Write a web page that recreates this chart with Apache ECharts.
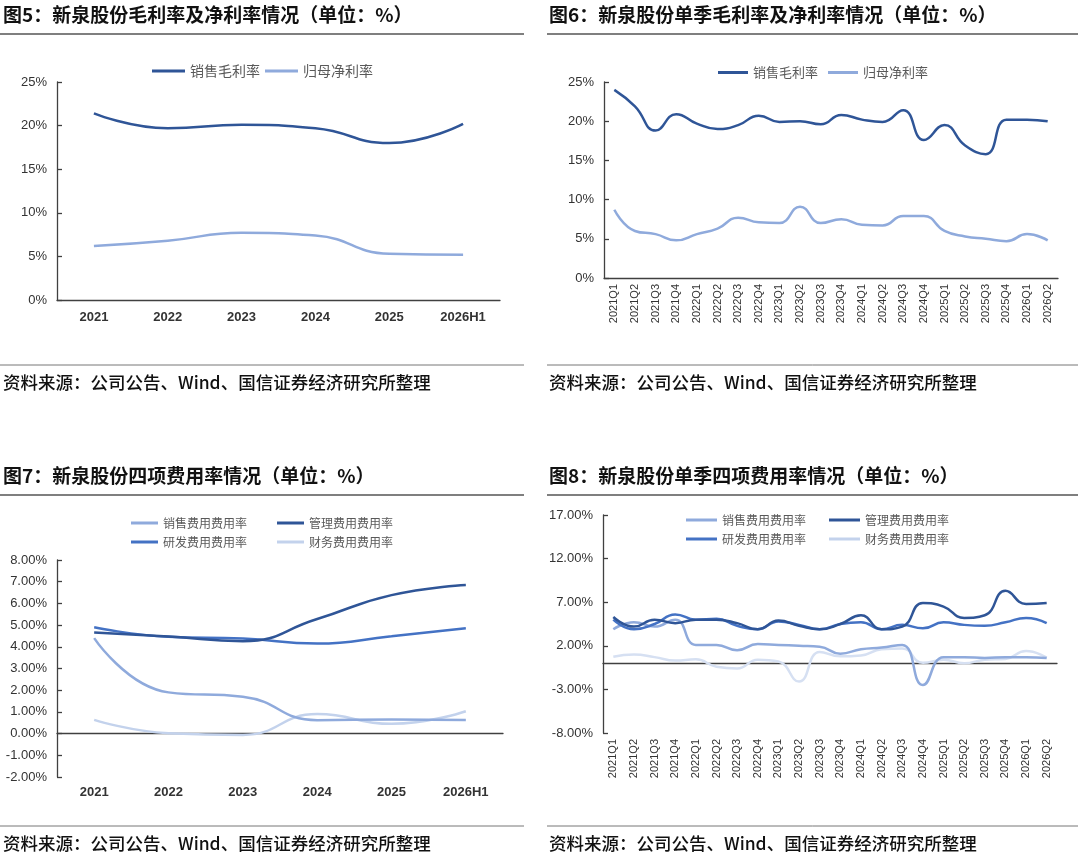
<!DOCTYPE html>
<html lang="zh-CN">
<head>
<meta charset="UTF-8">
<title>新泉股份 利润率与费用率</title>
<style>
  html, body { margin: 0; padding: 0; background: #fff; }
  #main { width: 1080px; height: 859px; }
</style>
</head>
<body>
<div id="main"></div>
<script src="https://cdn.jsdelivr.net/npm/echarts@6/dist/echarts.min.js"></script>
<script type="text/javascript">
    // 年度 / 单季 类目
    var years = ['2021', '2022', '2023', '2024', '2025', '2026H1'];
    var quarters = ['2021Q1', '2021Q2', '2021Q3', '2021Q4', '2022Q1', '2022Q2', '2022Q3', '2022Q4',
        '2023Q1', '2023Q2', '2023Q3', '2023Q4', '2024Q1', '2024Q2', '2024Q3', '2024Q4',
        '2025Q1', '2025Q2', '2025Q3', '2025Q4', '2026Q1', '2026Q2'];

    // 图5 年度毛利率/净利率 (%)
    var grossYear = [21.4, 19.7, 20.1, 19.7, 18.0, 20.2];
    var netYear = [6.2, 6.8, 7.7, 7.4, 5.3, 5.2];

    // 图6 单季毛利率/净利率 (%)
    var grossQtr = [24.0, 21.9, 18.8, 20.9, 19.7, 19.0, 19.5, 20.7, 19.9, 20.0, 19.6, 20.8,
        20.2, 19.9, 21.4, 17.6, 19.5, 16.9, 15.8, 20.2, 20.2, 20.0];
    var netQtr = [8.7, 6.0, 5.6, 4.8, 5.6, 6.3, 7.7, 7.1, 7.0, 9.1, 7.0, 7.5,
        6.8, 6.7, 7.9, 7.9, 6.0, 5.3, 5.0, 4.7, 5.6, 4.8];

    // 图7 年度四项费用率 (%)
    var sellYear = [4.4, 1.9, 1.7, 0.62, 0.65, 0.63];
    var mgmtYear = [4.66, 4.48, 4.26, 5.28, 6.38, 6.85];
    var rdYear = [4.9, 4.46, 4.38, 4.15, 4.49, 4.85];
    var finYear = [0.63, 0.02, -0.06, 0.9, 0.45, 1.03];

    // 图8 单季四项费用率 (%)
    var sellQtr = [3.9, 4.7, 4.2, 5.0, 2.1, 2.1, 1.5, 2.2, 2.1, 2.0, 1.9, 1.1,
        1.6, 1.8, 2.1, -2.5, 0.7, 0.7, 0.6, 0.7, 0.7, 0.6];
    var mgmtQtr = [5.3, 4.2, 5.0, 4.6, 5.0, 5.0, 4.6, 3.9, 4.9, 4.3, 3.9, 4.5,
        5.5, 3.9, 4.2, 6.9, 6.5, 5.2, 5.5, 8.3, 6.8, 6.9];
    var rdQtr = [5.0, 3.9, 4.5, 5.6, 5.0, 5.1, 4.3, 3.9, 4.8, 4.4, 3.9, 4.5,
        4.7, 3.9, 4.4, 4.0, 4.7, 4.4, 4.3, 4.7, 5.2, 4.6];
    var finQtr = [0.75, 1.0, 0.7, 0.3, 0.45, -0.4, -0.6, 0.4, 0.2, -2.1, 1.3, 0.8,
        0.9, 1.6, 1.7, 0.05, 0.4, 0.0, 0.4, 0.5, 1.4, 0.65];

    var cDark = '#2F5597', cMid = '#4472C4', cLight = '#8FAADC', cPale = '#C3D2EC', cPaler = '#D6E0F2';
    var axisColor = '#404040';
    var labelColor = '#333333';
    var font = '"Liberation Sans", "Noto Sans CJK SC", sans-serif';

    function xCat(grid, data, extra) {
        var ax = {
            type: 'category', gridIndex: grid, data: data,
            axisLine: {lineStyle: {color: axisColor, width: 1.3}},
            axisTick: {inside: true, length: 5, lineStyle: {color: axisColor, width: 1.3}},
            axisLabel: {color: labelColor, fontSize: 13, fontWeight: 'bold', margin: 11, interval: 0}
        };
        return Object.assign(ax, extra || {});
    }

    function yVal(grid, min, max, step, digits) {
        return {
            type: 'value', gridIndex: grid, min: min, max: max, interval: step,
            splitLine: {show: false},
            axisLine: {show: true, lineStyle: {color: axisColor, width: 1.3}},
            axisTick: {show: true, inside: true, length: 5, lineStyle: {color: axisColor, width: 1.3}},
            axisLabel: {
                color: labelColor, fontSize: 13, margin: 10,
                formatter: function (v) { return v.toFixed(digits) + '%'; }
            }
        };
    }

    function line(name, data, color, xi, yi, w) {
        return {
            name: name, type: 'line', xAxisIndex: xi, yAxisIndex: yi, data: data,
            smooth: true, symbol: 'none',
            lineStyle: {color: color, width: w || 2.5},
            itemStyle: {color: color}
        };
    }

    function legend(left, top, names, iw, gap, fs) {
        return {
            left: left, top: top, data: names, icon: 'rect', itemWidth: iw, itemHeight: 3,
            itemGap: gap, padding: 0, selectedMode: false,
            textStyle: {fontSize: fs, color: '#595959', fontFamily: '"Noto Sans CJK SC", sans-serif'}
        };
    }

    function hline(x1, x2, y, w, color) {
        return {type: 'line', shape: {x1: x1, y1: y, x2: x2, y2: y}, style: {stroke: color, lineWidth: w}, silent: true};
    }

    function note(x, y) {
        return {
            type: 'text', x: x, y: y,
            style: {
                text: '资料来源：公司公告、Wind、国信证券经济研究所整理',
                font: '500 17.5px "Noto Sans CJK SC", sans-serif', fill: '#111', verticalAlign: 'middle'
            }
        };
    }

    var titleStyle = {fontSize: 19, color: '#111', fontWeight: 'bold', fontFamily: '"Noto Sans CJK SC", sans-serif'};

    var myChart = echarts.init(document.getElementById('main'));
    myChart.setOption({
        animation: false,
        textStyle: {fontFamily: font},
        title: [
            {text: '图5：新泉股份毛利率及净利率情况（单位：%）', left: 3, top: 5, padding: 0, textStyle: titleStyle},
            {text: '图6：新泉股份单季毛利率及净利率情况（单位：%）', left: 549, top: 5, padding: 0, textStyle: titleStyle},
            {text: '图7：新泉股份四项费用率情况（单位：%）', left: 3, top: 466, padding: 0, textStyle: titleStyle},
            {text: '图8：新泉股份单季四项费用率情况（单位：%）', left: 549, top: 466, padding: 0, textStyle: titleStyle}
        ],
        legend: [
            legend(152, 64, ['销售毛利率', '归母净利率'], 33, 5, 14),
            legend(718, 66, ['销售毛利率', '归母净利率'], 30, 10, 13),
            legend(131, 517, ['销售费用费用率', '管理费用费用率'], 27, 30, 12),
            legend(131, 536, ['研发费用费用率', '财务费用费用率'], 27, 30, 12),
            legend(686, 514, ['销售费用费用率', '管理费用费用率'], 31, 23, 12),
            legend(686, 533, ['研发费用费用率', '财务费用费用率'], 31, 23, 12)
        ],
        grid: [
            {left: 57, top: 82, width: 443, height: 218},
            {left: 604, top: 82, width: 454, height: 196},
            {left: 57, top: 560, width: 446, height: 217},
            {left: 603, top: 515, width: 454, height: 218}
        ],
        xAxis: [
            xCat(0, years),
            xCat(1, quarters, {axisLabel: {color: labelColor, fontSize: 11, rotate: 90, margin: 6, interval: 0}}),
            xCat(2, years, {axisLabel: {color: labelColor, fontSize: 13, fontWeight: 'bold', margin: 9, interval: 0}}),
            // 图8：标签在底部
            xCat(3, quarters, {
                axisLine: {show: false, onZero: false}, axisTick: {show: false},
                axisLabel: {color: labelColor, fontSize: 11, rotate: 90, margin: 6, interval: 0}
            }),
            // 图8：零轴线
            xCat(3, quarters, {axisLabel: {show: false}})
        ],
        yAxis: [
            yVal(0, 0, 25, 5, 0),
            yVal(1, 0, 25, 5, 0),
            yVal(2, -2, 8, 1, 2),
            yVal(3, -8, 17, 5, 2)
        ],
        series: [
            line('销售毛利率', grossYear, cDark, 0, 0),
            line('归母净利率', netYear, cLight, 0, 0),
            line('销售毛利率', grossQtr, cDark, 1, 1),
            line('归母净利率', netQtr, cLight, 1, 1),
            line('财务费用费用率', finYear, cPale, 2, 2),
            line('销售费用费用率', sellYear, cLight, 2, 2),
            line('研发费用费用率', rdYear, cMid, 2, 2),
            line('管理费用费用率', mgmtYear, cDark, 2, 2),
            line('财务费用费用率', finQtr, cPaler, 3, 3),
            line('销售费用费用率', sellQtr, cLight, 3, 3),
            line('研发费用费用率', rdQtr, cMid, 3, 3),
            line('管理费用费用率', mgmtQtr, cDark, 3, 3)
        ],
        graphic: [
            hline(0, 524, 34, 1.5, '#555'),
            hline(547, 1078, 34, 1.5, '#555'),
            hline(0, 524, 495, 1.5, '#555'),
            hline(547, 1078, 495, 1.5, '#555'),
            hline(0, 524, 365, 1, '#777'),
            hline(547, 1078, 365, 1, '#777'),
            hline(0, 524, 826, 1, '#777'),
            hline(547, 1078, 826, 1, '#777'),
            note(3, 382),
            note(549, 382),
            note(3, 843),
            note(549, 843)
        ]
    });
</script>
</body>
</html>
